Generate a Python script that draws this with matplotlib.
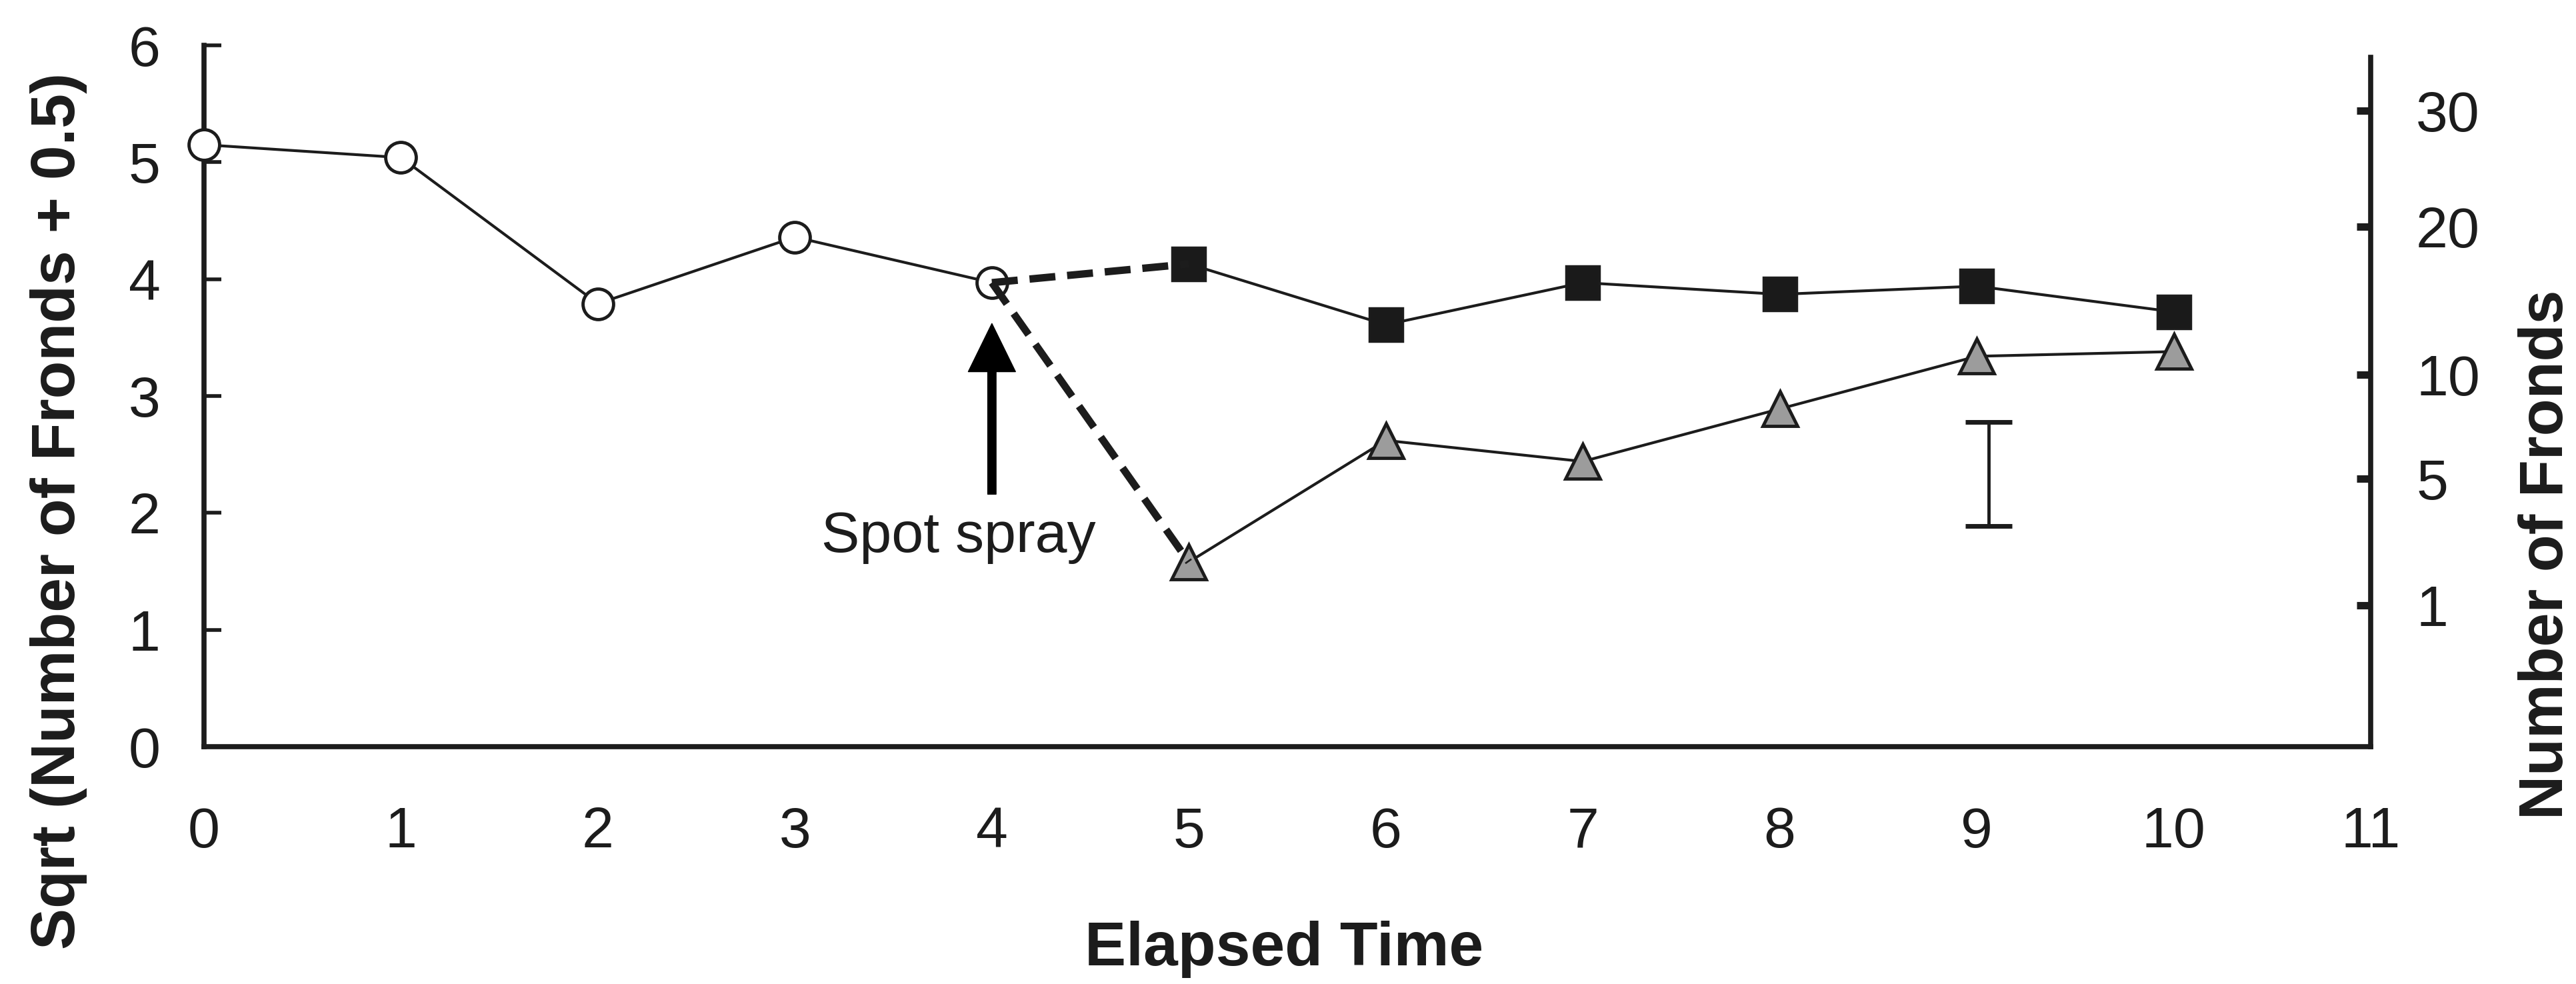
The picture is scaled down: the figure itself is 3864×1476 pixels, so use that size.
import numpy as np
import matplotlib
matplotlib.use('Agg')
import matplotlib.pyplot as plt

plt.rcParams['font.family'] = ['Liberation Sans', 'DejaVu Sans']

# data (sqrt(fronds + 0.5) scale)
pre_x = [0, 1, 2, 3, 4]
pre_y = [5.15, 5.04, 3.79, 4.36, 3.97]

ctrl_x = [5, 6, 7, 8, 9, 10]
ctrl_y = [4.13, 3.61, 3.97, 3.87, 3.94, 3.72]

spray_x = [5, 6, 7, 8, 9, 10]
spray_y = [1.58, 2.62, 2.44, 2.89, 3.34, 3.38]

# error bar (LSD) shown near week 9
lsd_x = 9.06
lsd_lo, lsd_hi = 1.89, 2.78

# right axis: number of fronds and where its ticks sit on the left scale
right_labels = ['1', '5', '10', '20', '30']
right_pos = [1.21, 2.29, 3.18, 4.45, 5.44]

xticks = list(range(0, 12))
yticks = list(range(0, 7))

ink = '#1c1c1c'

fig = plt.figure(figsize=(38.64, 14.76), dpi=100)
ax = fig.add_axes([0.0792, 0.2412, 0.8411, 0.7127])

# solid lines with markers
ax.plot(pre_x, pre_y, color=ink, lw=3, marker='o', ms=33, mfc='white',
        mec=ink, mew=3.5, zorder=4, clip_on=False)
ax.plot(ctrl_x, ctrl_y, color=ink, lw=3, marker='s', ms=36, mfc='#1a1a1a',
        mec=ink, mew=2.5, zorder=4, clip_on=False)
ax.plot(spray_x, spray_y, color=ink, lw=3, marker='^', ms=37, mfc='#9c9c9c',
        mec=ink, mew=3.5, zorder=4, clip_on=False)

# dashed links from last pre-spray point to first post-spray points
ax.plot([pre_x[-1], ctrl_x[0]], [pre_y[-1], ctrl_y[0]], color=ink, lw=8,
        ls=(0, (3.5, 1.6)), zorder=5)
ax.plot([pre_x[-1], spray_x[0]], [pre_y[-1], spray_y[0]], color=ink, lw=8,
        ls=(0, (3.5, 1.6)), zorder=5)

# error bar
ax.errorbar([lsd_x], [(lsd_lo + lsd_hi) / 2], yerr=[(lsd_hi - lsd_lo) / 2],
            fmt='none', ecolor=ink, elinewidth=3.5, capsize=25, capthick=5)

# spray arrow and label
ax.annotate('', xy=(4, 3.62), xytext=(4, 2.16),
            arrowprops=dict(facecolor='black', edgecolor='black', width=9,
                            headwidth=51, headlength=52, shrink=0))
ax.text(3.83, 1.665, 'Spot spray', ha='center', va='baseline', fontsize=62,
        color=ink)

ax.set_xlim(0, 11)
ax.set_ylim(0, 6)
ax.set_xticks(xticks)
ax.set_yticks(yticks)
ax.tick_params(axis='x', length=0, pad=64, labelsize=62, colors=ink)
ax.tick_params(axis='y', direction='in', length=19, width=4, pad=47,
               labelsize=62, colors=ink)
for s in ['top', 'right']:
    ax.spines[s].set_visible(False)
ax.spines['left'].set_linewidth(5.5)
ax.spines['bottom'].set_linewidth(5.5)
ax.spines['left'].set_color(ink)
ax.spines['bottom'].set_color(ink)

# right axis
ax2 = ax.twinx()
ax2.set_ylim(0, 6)
ax2.set_yticks(right_pos)
ax2.set_yticklabels(right_labels)
ax2.tick_params(axis='y', direction='in', length=15, width=8, pad=49,
                labelsize=62, colors=ink)
for s in ['top', 'left', 'bottom']:
    ax2.spines[s].set_visible(False)
ax2.spines['right'].set_linewidth(5.5)
ax2.spines['right'].set_color(ink)
ax2.spines['right'].set_bounds(0, 5.9)

# axis titles
fig.text(0.0228, 1 - 766 / 1476, 'Sqrt (Number of Fronds + 0.5)', rotation=90,
         ha='center', va='center', fontsize=67, fontweight='bold', color=ink)
fig.text(0.9886, 1 - 832 / 1476, 'Number of Fronds', rotation=90,
         ha='center', va='center', fontsize=66, fontweight='bold', color=ink)
fig.text(1926 / 3864, 1 - 1448 / 1476, 'Elapsed Time', ha='center',
         va='baseline', fontsize=67, fontweight='bold', color=ink)

fig.savefig('out.png', dpi=100)
